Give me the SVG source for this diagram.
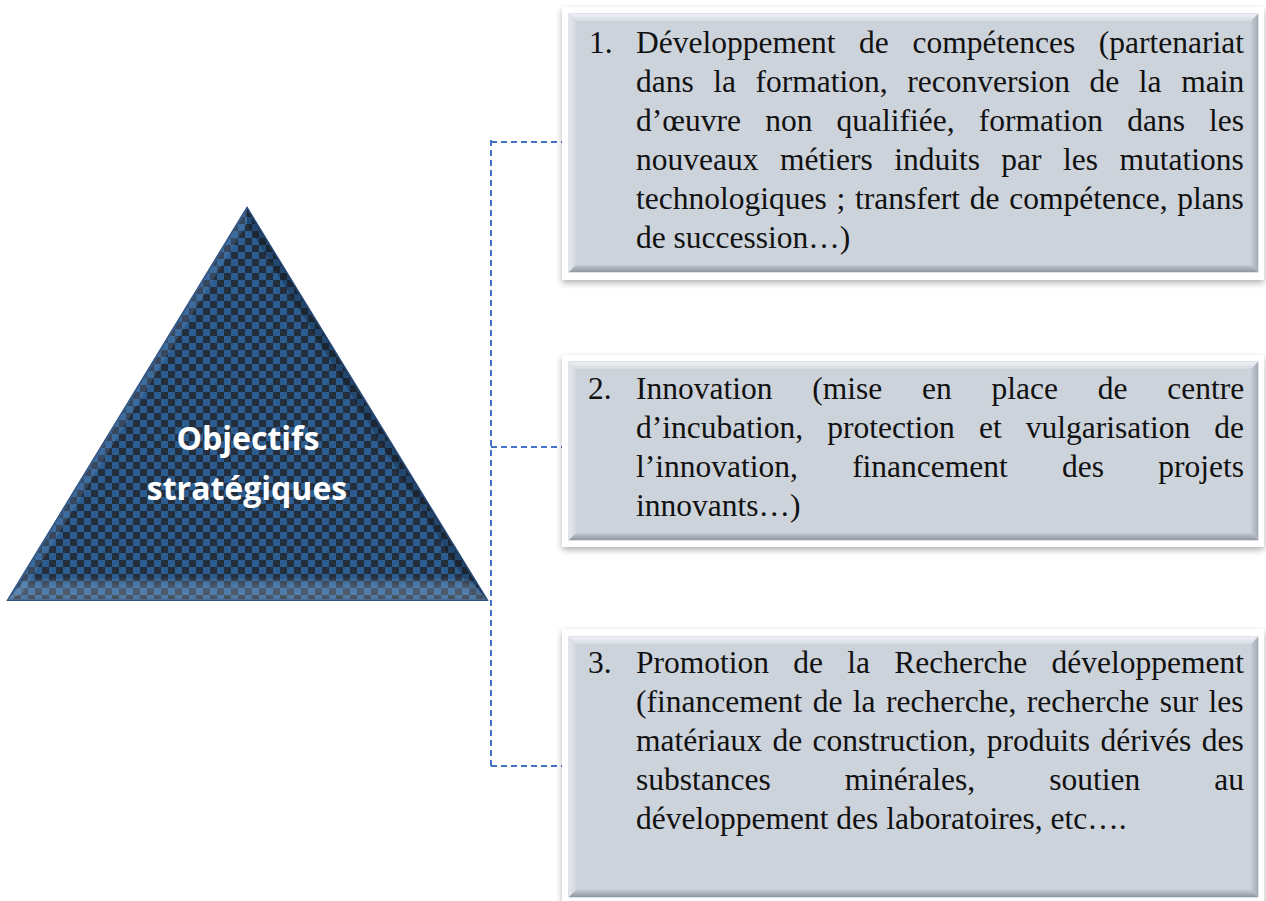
<svg xmlns="http://www.w3.org/2000/svg" width="1266" height="901" viewBox="0 0 1266 901">
<defs>
<pattern id="chk" width="14" height="14" patternUnits="userSpaceOnUse">
<rect width="14" height="14" fill="#242e3c"/>
<rect width="7" height="7" fill="#2b5d91"/>
<rect x="7" y="7" width="7" height="7" fill="#2b5d91"/>
</pattern>
<linearGradient id="triBot" x1="0" y1="0" x2="0" y2="1">
<stop offset="0" stop-color="#ffffff" stop-opacity="0"/>
<stop offset="0.5" stop-color="#8fb4e0" stop-opacity="0.35"/>
<stop offset="1" stop-color="#ffffff" stop-opacity="0.15"/>
</linearGradient>
<linearGradient id="bTop" x1="0" y1="0" x2="0" y2="1">
<stop offset="0" stop-color="#eef0f4"/>
<stop offset="1" stop-color="#d6dbe2"/>
</linearGradient>
<linearGradient id="bBot" x1="0" y1="0" x2="0" y2="1">
<stop offset="0" stop-color="#c3c9d1"/>
<stop offset="1" stop-color="#8e97a3"/>
</linearGradient>
<linearGradient id="bLeft" x1="0" y1="0" x2="1" y2="0">
<stop offset="0" stop-color="#e4e7ec"/>
<stop offset="1" stop-color="#d3d8df"/>
</linearGradient>
<linearGradient id="bRight" x1="0" y1="0" x2="1" y2="0">
<stop offset="0" stop-color="#c7cdd5"/>
<stop offset="1" stop-color="#a3abb6"/>
</linearGradient>
<filter id="sh" x="-5%" y="-10%" width="110%" height="125%">
<feDropShadow dx="0" dy="3" stdDeviation="3" flood-color="#000" flood-opacity="0.3"/>
</filter>
<style>
.frame{fill:#ffffff;filter:url(#sh)}
.gray{fill:#cdd3db;stroke:#aeb5bf;stroke-width:0.8}
.t{font-family:"Liberation Serif","Times New Roman",serif;font-size:31.5px;fill:#111}
.tri{font-family:"Open Sans","Noto Sans",sans-serif;font-weight:bold;font-size:32px;fill:#ffffff;text-anchor:middle}
.con{fill:none;stroke:#4472c4;stroke-width:2;stroke-dasharray:6 4}
</style>
</defs>
<rect width="1266" height="901" fill="#ffffff"/>

<g id="connectors">
<path class="con" d="M491 140 V766"/>
<path class="con" d="M491 142 H570"/>
<path class="con" d="M491 447 H562"/>
<path class="con" d="M491 766 H562"/>
</g>

<g id="triangle">
<polygon points="247,208 8,600 487,600" fill="url(#chk)" stroke="#2c4f7e" stroke-width="2"/>
<polygon points="247,208 8,600 22,594 247,224" fill="#6f96c8" opacity="0.25"/>
<polygon points="247,208 487,600 473,594 247,224" fill="#0b1320" opacity="0.3"/>
<polygon points="8,600 487,600 468,577 27,577" fill="url(#triBot)"/>
<text class="tri" x="248" y="450">Objectifs</text>
<text class="tri" x="247" y="500">stratégiques</text>
</g>

<g id="box1">
<rect class="frame" x="562" y="7" width="702" height="273"/>
<rect class="gray" x="569" y="14" width="689" height="258"/>
<polygon points="569,14 1258,14 1251,21 576,21" fill="url(#bTop)"/>
<polygon points="569,14 576,21 576,265 569,272" fill="url(#bLeft)"/>
<polygon points="1258,14 1258,272 1251,265 1251,21" fill="url(#bRight)"/>
<polygon points="569,272 1258,272 1251,265 576,265" fill="url(#bBot)"/>
<text class="t" x="589" y="53">1.</text>
<text class="t" x="636" y="53" style="word-spacing:15.8px">Développement de compétences (partenariat</text>
<text class="t" x="636" y="92" style="word-spacing:11.7px">dans la formation, reconversion de la main</text>
<text class="t" x="636" y="131" style="word-spacing:16.3px">d’œuvre non qualifiée, formation dans les</text>
<text class="t" x="636" y="170" style="word-spacing:13.6px">nouveaux métiers induits par les mutations</text>
<text class="t" x="636" y="209" style="word-spacing:1.9px">technologiques ; transfert de compétence, plans</text>
<text class="t" x="636" y="248">de succession…)</text>
</g>

<g id="box2">
<rect class="frame" x="562" y="355" width="702" height="192"/>
<rect class="gray" x="569" y="362" width="689" height="178"/>
<polygon points="569,362 1258,362 1251,369 576,369" fill="url(#bTop)"/>
<polygon points="569,362 576,369 576,533 569,540" fill="url(#bLeft)"/>
<polygon points="1258,362 1258,540 1251,533 1251,369" fill="url(#bRight)"/>
<polygon points="569,540 1258,540 1251,533 576,533" fill="url(#bBot)"/>
<text class="t" x="588" y="399">2.</text>
<text class="t" x="636" y="399" style="word-spacing:31.9px">Innovation (mise en place de centre</text>
<text class="t" x="636" y="438" style="word-spacing:16.2px">d’incubation, protection et vulgarisation de</text>
<text class="t" x="636" y="477" style="word-spacing:46.4px">l’innovation, financement des projets</text>
<text class="t" x="636" y="516">innovants…)</text>
</g>

<g id="box3">
<rect class="frame" x="562" y="629" width="702" height="290"/>
<rect class="gray" x="569" y="637" width="689" height="260"/>
<polygon points="569,637 1258,637 1251,644 576,644" fill="url(#bTop)"/>
<polygon points="569,637 576,644 576,890 569,897" fill="url(#bLeft)"/>
<polygon points="1258,637 1258,897 1251,890 1251,644" fill="url(#bRight)"/>
<polygon points="569,897 1258,897 1251,890 576,890" fill="url(#bBot)"/>
<text class="t" x="588" y="673">3.</text>
<text class="t" x="636" y="673" style="word-spacing:16.4px">Promotion de la Recherche développement</text>
<text class="t" x="636" y="712" style="word-spacing:2.6px">(financement de la recherche, recherche sur les</text>
<text class="t" x="636" y="751" style="word-spacing:2.6px">matériaux de construction, produits dérivés des</text>
<text class="t" x="636" y="790" style="word-spacing:66.2px">substances minérales, soutien au</text>
<text class="t" x="636" y="829">développement des laboratoires, etc….</text>
</g>
</svg>
